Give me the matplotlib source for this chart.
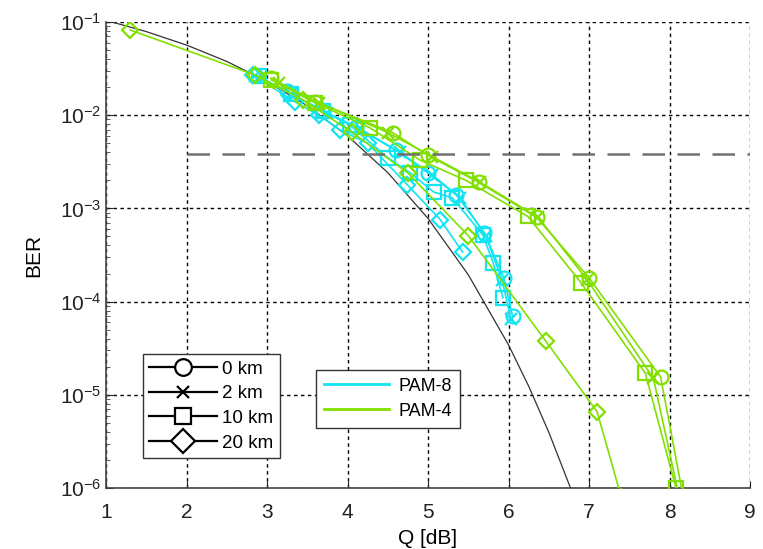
import matplotlib
matplotlib.use("Agg")
import matplotlib.pyplot as plt
from matplotlib.lines import Line2D
from matplotlib.ticker import LogLocator, NullFormatter

plt.rcParams['font.family'] = ['Liberation Sans', 'DejaVu Sans']
plt.rcParams['mathtext.fontset'] = 'custom'
plt.rcParams['mathtext.rm'] = 'Liberation Sans'
plt.rcParams['mathtext.it'] = 'Liberation Sans'
plt.rcParams['mathtext.bf'] = 'Liberation Sans'

# ---------------- data ----------------
theory_q = [1.0, 1.5, 2.0, 2.5, 3.0, 3.5, 4.0, 4.5, 5.0, 5.5, 6.0, 6.25, 6.5, 6.77]
theory_ber = [0.104, 0.0788, 0.0565, 0.0377, 0.0230, 0.0126, 0.0060, 0.00242,
              0.00078, 0.000194, 3.43e-5, 1.24e-5, 3.97e-6, 1.0e-6]

# PAM-8 (cyan)
p8_0km_q = [2.85, 3.25, 3.7, 4.1, 4.6, 5.0, 5.35, 5.7, 5.94, 6.05]
p8_0km_ber = [0.027, 0.018, 0.011, 0.0075, 0.0042, 0.0024, 0.0014, 5.5e-4, 1.8e-4, 7.0e-5]
p8_2km_q = [2.85, 3.3, 3.75, 4.15, 4.65, 5.05, 5.4, 5.72, 5.92, 6.03]
p8_2km_ber = [0.026, 0.017, 0.0105, 0.0072, 0.0040, 0.0023, 0.0013, 5.0e-4, 1.7e-4, 6.5e-5]
p8_10km_q = [2.9, 3.3, 3.7, 4.03, 4.5, 4.78, 5.07, 5.30, 5.68, 5.81, 5.93]
p8_10km_ber = [0.026, 0.017, 0.011, 0.0078, 0.0035, 0.0024, 0.0015, 0.0013, 5.2e-4, 2.6e-4, 1.1e-4]
p8_20km_q = [2.83, 3.35, 3.64, 3.91, 4.25, 4.74, 5.15, 5.43]
p8_20km_ber = [0.027, 0.0139, 0.010, 0.0069, 0.0050, 0.0018, 7.6e-4, 3.4e-4]

# PAM-4 (green)
p4_0km_q = [3.05, 3.6, 4.56, 5.0, 5.63, 6.35, 7.0, 7.89, 8.17]
p4_0km_ber = [0.025, 0.014, 0.0065, 0.0037, 0.0019, 8.0e-4, 1.8e-4, 1.55e-5, 8.0e-7]
p4_2km_q = [3.15, 3.65, 4.5, 5.05, 5.65, 6.37, 6.98, 7.8, 8.12]
p4_2km_ber = [0.022, 0.0135, 0.0065, 0.0036, 0.0019, 8.0e-4, 1.7e-4, 1.5e-5, 8.0e-7]
p4_10km_q = [3.05, 3.6, 4.28, 4.9, 5.47, 6.24, 6.9, 7.7, 8.08]
p4_10km_ber = [0.024, 0.0135, 0.0073, 0.0033, 0.0020, 8.2e-4, 1.6e-4, 1.7e-5, 1.0e-6]
p4_20km_q = [1.3, 2.85, 3.45, 4.05, 4.75, 5.5, 6.46, 7.1, 7.4]
p4_20km_ber = [0.082, 0.027, 0.0145, 0.0066, 0.0024, 5.1e-4, 3.8e-5, 6.6e-6, 8.0e-7]

fec_q = [2, 9]
fec_ber = [3.8e-3, 3.8e-3]

x_ticks = [1, 2, 3, 4, 5, 6, 7, 8, 9]
dist_labels = ['0 km', '2 km', '10 km', '20 km']
dist_markers = ['o', 'x', 's', 'D']
mod_labels = ['PAM-8', 'PAM-4']

CYAN = '#12E4F2'
GREEN = '#82E000'

fig = plt.figure(figsize=(7.63, 5.49), dpi=100)
ax = fig.add_axes([0.139, 0.111, 0.844, 0.849])

ax.plot(theory_q, theory_ber, color='#333333', lw=0.9, zorder=3)

series = [
    (p8_0km_q, p8_0km_ber, CYAN, 'o'),
    (p8_2km_q, p8_2km_ber, CYAN, 'x'),
    (p8_10km_q, p8_10km_ber, CYAN, 's'),
    (p8_20km_q, p8_20km_ber, CYAN, 'D'),
    (p4_0km_q, p4_0km_ber, GREEN, 'o'),
    (p4_2km_q, p4_2km_ber, GREEN, 'x'),
    (p4_10km_q, p4_10km_ber, GREEN, 's'),
    (p4_20km_q, p4_20km_ber, GREEN, 'D'),
]
for q, b, c, m in series:
    ms = {'o': 10, 'x': 9, 's': 10, 'D': 8}[m]
    ax.plot(q, b, color=c, lw=1.2, marker=m, ms=ms, mfc='none', mec=c, mew=1.6, zorder=4)

ax.plot(fec_q, fec_ber, color='#707070', lw=1.8, dashes=(9, 5), zorder=5)

ax.set_yscale('log')
ax.set_xlim(1, 9)
ax.set_ylim(1e-6, 1e-1)
ax.set_xticks(x_ticks)
ax.set_xticklabels([str(t) for t in x_ticks])
ax.yaxis.set_major_locator(LogLocator(base=10, numticks=10))
ax.yaxis.set_minor_locator(LogLocator(base=10, subs=range(2, 10), numticks=20))
ax.yaxis.set_minor_formatter(NullFormatter())

ax.grid(True, which='major', color='black', linestyle=(0, (2.5, 2.5)), lw=1.0)
ax.spines['top'].set_visible(False)
ax.spines['right'].set_visible(False)
ax.spines['left'].set_color('#444444')
ax.spines['bottom'].set_color('#444444')
ax.spines['left'].set_linewidth(1.2)
ax.spines['bottom'].set_linewidth(1.2)
ax.tick_params(axis='both', which='major', direction='in', length=5, labelsize=15, colors='#222222')
ax.tick_params(axis='y', which='minor', direction='in', length=3, colors='#444444')
ax.tick_params(axis='x', which='major', pad=11)

ax.set_xlabel('Q [dB]', fontsize=15, labelpad=5)
ax.set_ylabel('BER', fontsize=15, labelpad=12)

h1 = [Line2D([0], [0], color='black', lw=1.6, marker=m, ms=12 if m != 'x' else 9,
             mfc='white', mec='black', mew=1.6) for m in dist_markers]
leg1 = ax.legend(h1, dist_labels, loc='lower left', bbox_to_anchor=(0.057, 0.064),
                 fontsize=13.5, handlelength=3.6, frameon=True, fancybox=False,
                 edgecolor='#333333', framealpha=1, borderpad=0.35, labelspacing=0.4,
                 handletextpad=0.3, borderaxespad=0)
leg1.get_frame().set_linewidth(1.0)
ax.add_artist(leg1)

h2 = [Line2D([0], [0], color=CYAN, lw=2), Line2D([0], [0], color=GREEN, lw=2)]
leg2 = ax.legend(h2, mod_labels, loc='lower left', bbox_to_anchor=(0.326, 0.129),
                 fontsize=13, handlelength=3.6, frameon=True, fancybox=False,
                 edgecolor='#333333', framealpha=1, borderpad=0.45, labelspacing=0.45,
                 handletextpad=0.5, borderaxespad=0)
leg2.get_frame().set_linewidth(1.0)

fig.savefig('out.png', dpi=100)
